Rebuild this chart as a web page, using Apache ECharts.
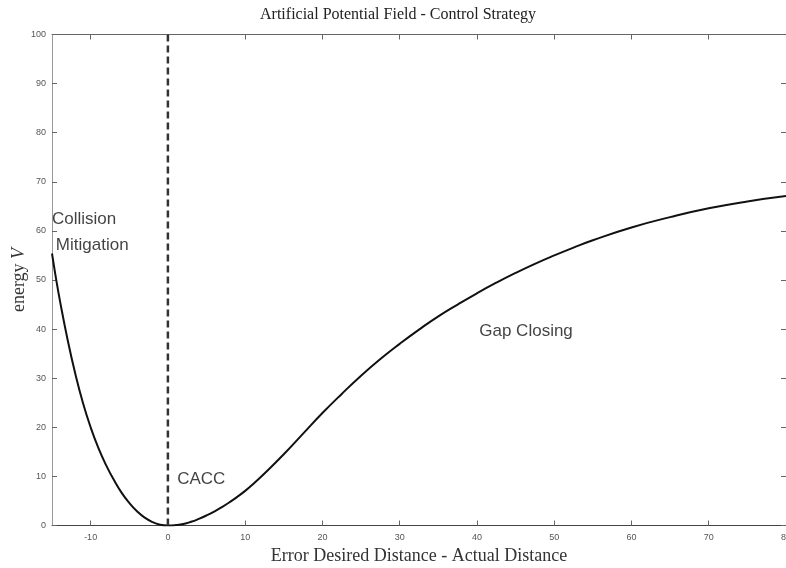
<!DOCTYPE html>
<html>
<head>
<meta charset="utf-8">
<script src="https://cdn.jsdelivr.net/npm/echarts@6/dist/echarts.min.js"></script>
<style>html,body{margin:0;padding:0;background:#fff}#c{width:786px;height:568px}</style>
</head>
<body>
<div id="c"></div>
<script>
// Error (desired - actual distance) and energy V
const xValues = [-15, -14.5, -14, -13, -12, -11, -10, -9, -8, -7, -6, -5, -4, -3, -2, -1, 0,
  1, 2, 3, 4, 5, 6, 7, 8, 9, 10, 11, 12.5, 15, 17.5, 20, 22.5, 25, 27.5, 30, 32.5, 35, 37.5, 40, 42.5, 45, 47.5, 50, 52.5, 55, 60, 65, 70, 75, 80];
const energyV = [55.4, 50.5, 46, 38, 31, 25, 20, 15.8, 12.3, 9.3, 6.7, 4.6, 2.9, 1.6, 0.7, 0.17, 0,
  0.08, 0.3, 0.75, 1.35, 2.05, 2.85, 3.75, 4.75, 5.85, 7.05, 8.4, 10.6, 14.5, 18.7, 22.9, 26.8, 30.5, 33.9, 37, 39.9, 42.6, 45.0, 47.3, 49.45, 51.45, 53.3, 55, 56.6, 58.1, 60.7, 62.8, 64.6, 66, 67.1];
// dashed marker at zero error
const zeroLineX = [0, 0];
const zeroLineY = [0, 100];
// tick labels
const xTicks = [-10, 0, 10, 20, 30, 40, 50, 60, 70, 80];
const yTicks = [0, 10, 20, 30, 40, 50, 60, 70, 80, 90, 100];
// region annotations [x, y, text]
const annX = [-15, -14.5, 1.2, 40.3];
const annY = [62.4, 57.1, 9.5, 39.6];
const annText = ['Collision', 'Mitigation', 'CACC', 'Gap Closing'];

const chart = echarts.init(document.getElementById('c'), null, {renderer: 'canvas'});
const tickLabel = {color: '#555', fontSize: 9, fontFamily: 'Liberation Sans, Arial, sans-serif'};
chart.setOption({
  animation: false,
  backgroundColor: '#fff',
  title: {
    text: 'Artificial Potential Field - Control Strategy',
    left: 393, top: 2, textAlign: 'center',
    textStyle: {fontFamily: 'Liberation Serif, DejaVu Serif, serif', fontSize: 16, fontWeight: 'normal', color: '#222'}
  },
  grid: {left: 52, right: 0, top: 34.5, bottom: 42.5, containLabel: false, outerBoundsMode: 'none'},
  xAxis: [{
    type: 'value', min: -15, max: 80, position: 'bottom',
    name: 'Error Desired Distance - Actual Distance', nameLocation: 'middle', nameGap: 18,
    nameTextStyle: {fontFamily: 'Liberation Serif, DejaVu Serif, serif', fontSize: 18, color: '#333'},
    axisLine: {onZero: false, lineStyle: {color: '#444', width: 1}},
    axisTick: {inside: true, length: 5, customValues: xTicks, lineStyle: {color: '#666'}},
    axisLabel: {customValues: xTicks, margin: 8, ...tickLabel},
    splitLine: {show: false}
  }, {
    type: 'value', min: -15, max: 80, position: 'top',
    axisLine: {onZero: false, lineStyle: {color: '#666', width: 1}},
    axisTick: {inside: true, length: 5, customValues: xTicks, lineStyle: {color: '#666'}},
    axisLabel: {show: false}, splitLine: {show: false}
  }],
  yAxis: [{
    type: 'value', min: 0, max: 100, position: 'left',
    name: '{n|energy }{v|V}', nameLocation: 'middle', nameGap: 24, nameRotate: 90, nameMoveOverlap: false,
    nameTextStyle: {
      rich: {
        n: {fontFamily: 'Liberation Serif, DejaVu Serif, serif', fontSize: 18, color: '#333'},
        v: {fontFamily: 'Liberation Serif, DejaVu Serif, serif', fontSize: 18, fontStyle: 'italic', color: '#333'}
      }
    },
    axisLine: {show: true, onZero: false, lineStyle: {color: '#999', width: 1}},
    axisTick: {show: true, inside: true, length: 5, customValues: yTicks, lineStyle: {color: '#666'}},
    axisLabel: {customValues: yTicks, margin: 6, ...tickLabel},
    splitLine: {show: false}
  }, {
    type: 'value', min: 0, max: 100, position: 'right',
    axisLine: {show: true, onZero: false, lineStyle: {color: '#666', width: 1}},
    axisTick: {show: true, inside: true, length: 5, customValues: yTicks, lineStyle: {color: '#666'}},
    axisLabel: {show: false}, splitLine: {show: false}
  }],
  series: [{
    type: 'line',
    data: xValues.map((x, i) => [x, energyV[i]]),
    smooth: true, showSymbol: false,
    lineStyle: {color: '#111', width: 2}
  }, {
    type: 'line',
    data: zeroLineX.map((x, i) => [x, zeroLineY[i]]),
    showSymbol: false,
    lineStyle: {color: '#333', width: 2.5, type: [7, 4]}
  }, {
    type: 'scatter',
    symbolSize: 0,
    data: annX.map((x, i) => ({value: [x, annY[i]], name: annText[i]})),
    label: {
      show: true, position: 'inside', align: 'left', verticalAlign: 'middle',
      formatter: p => p.name,
      fontFamily: 'Liberation Sans, Arial, sans-serif', fontSize: 17, color: '#111'
    }
  }]
});
</script>
</body>
</html>
